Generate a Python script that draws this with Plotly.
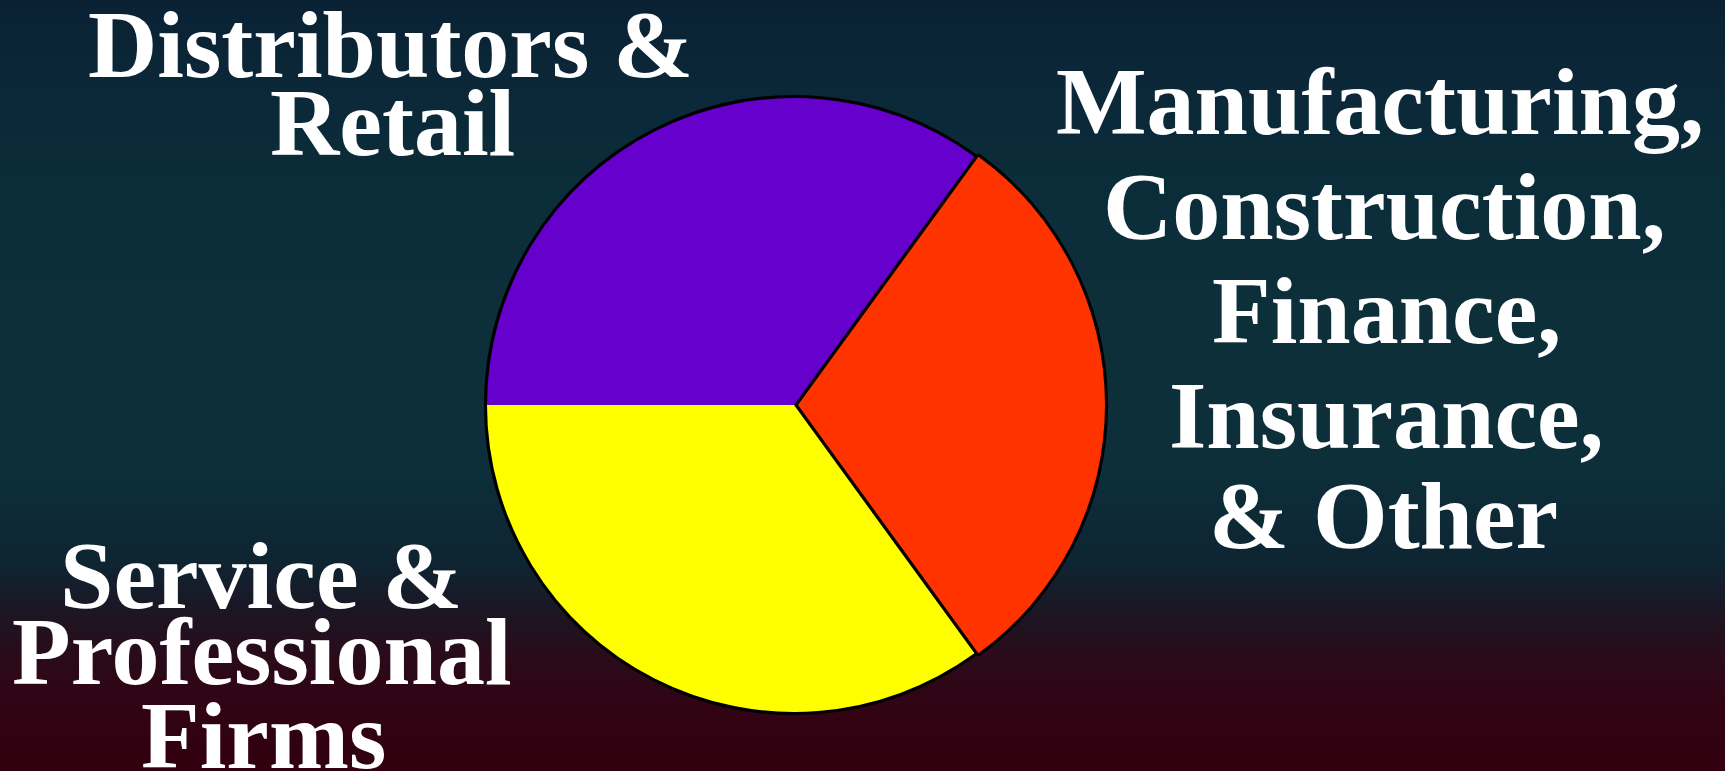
import plotly.graph_objects as go

# Market share by client segment
segments = [
    "Distributors & Retail",
    "Manufacturing, Construction, Finance, Insurance, & Other",
    "Service & Professional Firms",
]
shares = [35, 30, 35]
slice_colors = ["#6600CC", "#FF3300", "#FFFF00"]
slice_pull = [0, 0.013, 0]

# Label blocks, one entry per printed line: (text, centre x px, baseline px)
label_lines = [
    ("Distributors &", 390, 77),
    ("Retail", 392, 155),
    ("Manufacturing,", 1380, 134),
    ("Construction,", 1384, 239),
    ("Finance,", 1386, 343),
    ("Insurance,", 1386, 448),
    ("& Other", 1383, 548),
    ("Service &", 261, 608),
    ("Professional", 262, 684),
    ("Firms", 263, 768),
]

W, H = 1725, 771
FONT_SIZE = 96

# Vertical background gradient (px from top -> colour)
bg_stops = [
    (0, "#0a2134"),
    (120, "#0b2a39"),
    (300, "#0c2f3a"),
    (470, "#0c2f39"),
    (560, "#0e2532"),
    (610, "#1c1624"),
    (660, "#2b0a19"),
    (710, "#310313"),
    (771, "#32000f"),
]

fig = go.Figure()

# background drawn as a smooth heatmap filling the whole page
bg_rows = [y for y, _ in bg_stops]
fig.add_trace(go.Heatmap(
    x=[0, 1],
    y=bg_rows,
    z=[[y, y] for y in bg_rows],
    colorscale=[[y / H, c] for y, c in bg_stops],
    zmin=0, zmax=H,
    zsmooth="best",
    showscale=False,
    hoverinfo="skip",
))

# pie geometry (centre and radius in px)
cx, cy, r = 794, 405, 307
half = r * (1 + max(slice_pull))
dom_x = [(cx - half) / W, (cx + half) / W]
dom_y = [1 - (cy + half) / H, 1 - (cy - half) / H]

common = dict(
    labels=segments,
    values=shares,
    sort=False,
    direction="clockwise",
    rotation=270,
    pull=slice_pull,
    textinfo="none",
    hoverinfo="skip",
    showlegend=False,
    domain=dict(x=dom_x, y=dom_y),
)

# black rim underneath, fills on top without radial strokes
fig.add_trace(go.Pie(marker=dict(colors=["#000000"] * 3,
                                 line=dict(color="#000000", width=6)), **common))
fig.add_trace(go.Pie(marker=dict(colors=slice_colors,
                                 line=dict(color="#000000", width=0)), **common))

for text, x_px, base_px in label_lines:
    y_mid = base_px - 0.34 * FONT_SIZE
    fig.add_annotation(
        text=f"<b>{text}</b>",
        x=x_px / W, y=1 - y_mid / H,
        xref="paper", yref="paper",
        xanchor="center", yanchor="middle",
        showarrow=False,
        borderpad=0,
        font=dict(family="Liberation Serif, Times New Roman, serif",
                  size=FONT_SIZE, color="#FFFFFF"),
    )

fig.update_xaxes(visible=False, range=[0, 1], fixedrange=True)
fig.update_yaxes(visible=False, range=[H, 0], fixedrange=True)
fig.update_layout(
    width=W, height=H,
    margin=dict(l=0, r=0, t=0, b=0),
    paper_bgcolor="#0b2a36",
    plot_bgcolor="#0b2a36",
)

fig.write_html("out.html", config={"displayModeBar": False})
